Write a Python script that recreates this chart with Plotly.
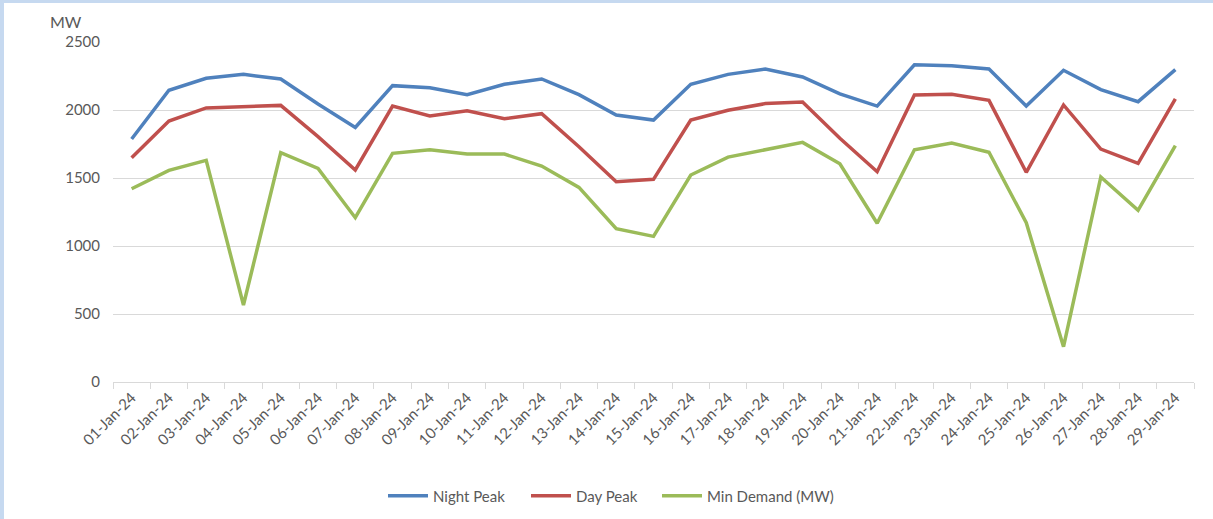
import plotly.graph_objects as go

# Daily demand, January 2024 (MW)
dates = [f"{d:02d}-Jan-24" for d in range(1, 30)]

night_peak = [1787, 2145, 2233, 2262, 2228, 2044, 1872, 2179, 2164, 2113,
              2189, 2228, 2113, 1963, 1926, 2189, 2262, 2301, 2243, 2118,
              2029, 2333, 2326, 2301, 2029, 2292, 2150, 2061, 2297]

day_peak = [1649, 1919, 2015, 2027, 2034, 1804, 1559, 2029, 1956, 1995,
            1936, 1973, 1730, 1473, 1490, 1926, 1998, 2047, 2059, 1792,
            1546, 2110, 2115, 2071, 1542, 2037, 1713, 1608, 2081]

min_demand = [1421, 1556, 1630, 566, 1686, 1571, 1208, 1681, 1708, 1676,
              1676, 1588, 1431, 1127, 1071, 1522, 1654, 1711, 1762, 1605,
              1167, 1708, 1757, 1689, 1171, 260, 1507, 1262, 1738]

y_ticks = [0, 500, 1000, 1500, 2000, 2500]

W, H = 1213, 519
ML, MR, MT, MB = 113, 19, 42, 137
PW, PH = W - ML - MR, H - MT - MB

FONT = "Lato"
TXT = "#595959"

# name, values, colour, left edge of its legend entry (px)
series = [
    ("Night Peak", night_peak, "#4f81bd", 383),
    ("Day Peak", day_peak, "#c0504d", 526),
    ("Min Demand (MW)", min_demand, "#9bbb59", 657),
]


def px_x(px):
    return (px - ML) / PW


def px_y(py):
    return (H - MB - py) / PH


fig = go.Figure()
legends = {}
for i, (name, vals, color, lx) in enumerate(series):
    key = "legend" if i == 0 else f"legend{i + 1}"
    fig.add_trace(go.Scatter(
        x=dates, y=vals, name=name, mode="lines",
        line=dict(color=color, width=3.5), legend=key,
    ))
    legends[key] = dict(
        orientation="h", xref="container", yref="container",
        x=lx / W, xanchor="left", y=1 - 496 / H, yanchor="middle",
        bgcolor="rgba(0,0,0,0)",
        font=dict(family=FONT, size=15, color=TXT), itemwidth=40,
    )

border = "#c6d9f0"
shapes = [
    dict(type="rect", xref="paper", yref="paper",
         x0=px_x(0), x1=px_x(4), y0=px_y(H), y1=px_y(0),
         fillcolor=border, line=dict(width=0), layer="below"),
    dict(type="rect", xref="paper", yref="paper",
         x0=px_x(0), x1=px_x(W), y0=px_y(3), y1=px_y(0),
         fillcolor=border, line=dict(width=0), layer="below"),
]

fig.update_layout(
    width=W, height=H,
    margin=dict(l=ML, r=MR, t=MT, b=MB),
    paper_bgcolor="white", plot_bgcolor="white",
    font=dict(family=FONT, size=15, color=TXT),
    showlegend=True,
    shapes=shapes,
    annotations=[dict(text="MW", xref="paper", yref="paper",
                      x=px_x(66), y=px_y(21), showarrow=False,
                      xanchor="center", yanchor="middle",
                      font=dict(family=FONT, size=16, color=TXT))],
    xaxis=dict(
        type="category", showgrid=False, zeroline=False, automargin=False,
        showline=True, linecolor="#d9d9d9", linewidth=1,
        ticks="outside", tickson="boundaries", ticklen=6,
        tickcolor="#d9d9d9", tickangle=-45,
        tickfont=dict(family=FONT, size=15, color=TXT),
        range=[-0.5, len(dates) - 0.5],
    ),
    yaxis=dict(
        range=[0, 2500], tickvals=y_ticks, automargin=False,
        showgrid=True, gridcolor="#d9d9d9", gridwidth=1,
        zeroline=False, showline=False, ticks="",
        ticklabelstandoff=12,
        tickfont=dict(family=FONT, size=15, color=TXT),
    ),
    **legends,
)

fig.write_html("out.html")
